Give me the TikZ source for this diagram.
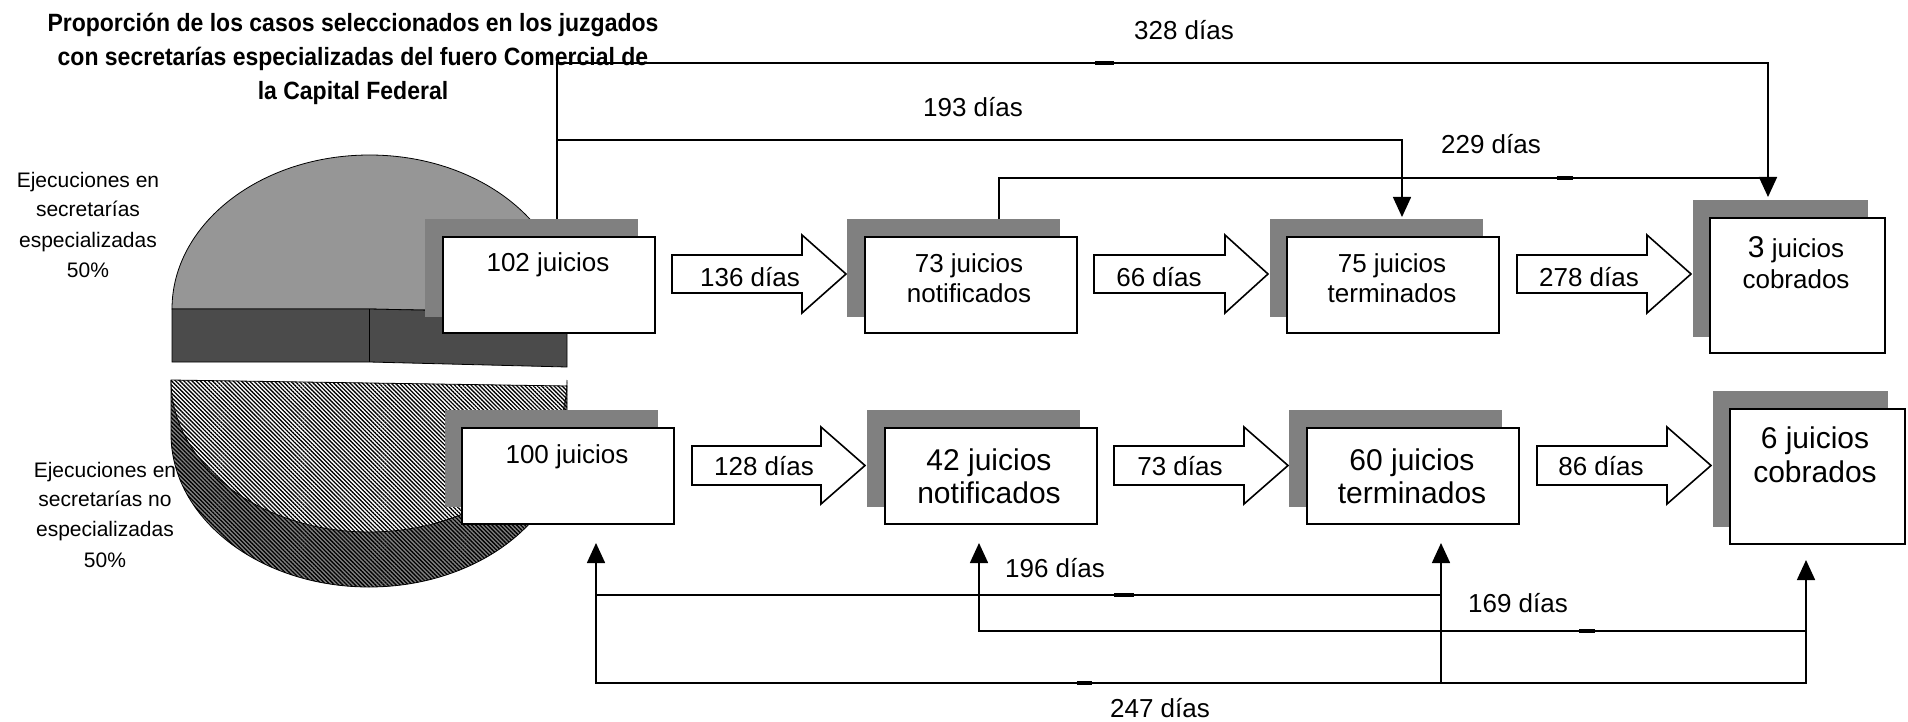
\documentclass[tikz,border=0pt]{standalone}
\usepackage{fontspec}
\setmainfont{Liberation Sans}
\newfontfamily\titlefont{Liberation Sans}[FakeStretch=0.92]
\usetikzlibrary{arrows.meta,patterns.meta,calc}
\definecolor{shadowgray}{HTML}{808080}
\definecolor{pietop}{HTML}{969696}
\definecolor{pieside}{HTML}{4B4B4B}
\definecolor{hatchbg}{HTML}{808080}
\begin{document}
\begin{tikzpicture}[x=1pt,y=-1pt,
  shadowbox/.style={fill=shadowgray, draw=none, anchor=north west, inner sep=0pt},
  jbox/.style={fill=white, draw=black, line width=2pt, anchor=north west, inner sep=0pt},
  wide/.style={minimum width=212pt, minimum height=96pt},
  tall/.style={minimum width=175pt, minimum height=135pt},
  ta/.style={font=\fontsize{26}{30}\selectfont, anchor=base, inner sep=0pt},
  tb/.style={font=\fontsize{30}{34}\selectfont, anchor=base, inner sep=0pt},
  side/.style={font=\fontsize{21}{25}\selectfont, anchor=base, inner sep=0pt},
  ttl/.style={font=\titlefont\bfseries\fontsize{25}{30}\selectfont, anchor=base, inner sep=0pt},
  blockarrow/.style={draw=black, fill=white, line width=1.6pt, line join=miter},
  conn/.style={draw=black, line width=1.6pt},
  tip/.style={-{Triangle[length=20pt,width=18pt]}},
  tick/.style={draw=black, line width=4pt},
  hatch/.style={pattern={Lines[angle=-45,distance=2.9pt,line width=1.3pt]}, pattern color=black}
]
\useasboundingbox (0,0) rectangle (1908,722);

% title
\node[ttl] (tl1) at (353,32) {Proporción de los casos seleccionados en los juzgados};
\node[ttl] (tl2) at (353,66) {con secretarías especializadas del fuero Comercial de};
\node[ttl] (tl3) at (353,100) {la Capital Federal};

% side labels
\node[side] (la1) at (88,188) {Ejecuciones en};
\node[side] (la2) at (88,217) {secretarías};
\node[side] (la3) at (88,247) {especializadas};
\node[side] (la4) at (88,277) {50\%};
\node[side] (lb1) at (105,477) {Ejecuciones en};
\node[side] (lb2) at (105,506) {secretarías no};
\node[side] (lb3) at (105,536) {especializadas};
\node[side] (lb4) at (105,567) {50\%};

% upper pie slice
\filldraw[fill=pietop, draw=black, line width=0.8pt] (172,309) arc[start angle=180, end angle=360, x radius=197.5, y radius=154] -- (567,313) -- (369,309) -- cycle;
\filldraw[fill=pieside, draw=black, line width=0.8pt] (172,309) -- (369,309) -- (567,313) -- (567,367) -- (369,362) -- (172,362) -- cycle;
\draw[black, line width=0.8pt] (369,309) -- (369,362);

% lower pie slice
\fill[hatchbg] (171,380) -- (171,434) arc[start angle=180, end angle=0, x radius=198, y radius=153] -- (567,386) -- cycle;
\fill[hatch] (171,380) -- (171,434) arc[start angle=180, end angle=0, x radius=198, y radius=153] -- (567,386) -- cycle;
\fill[white] (171,380) arc[start angle=180, end angle=0, x radius=198, y radius=152] -- (567,386) -- cycle;
\fill[hatch] (171,380) arc[start angle=180, end angle=0, x radius=198, y radius=152] -- (567,386) -- cycle;
\draw[black, line width=0.8pt] (171,380) -- (171,434) arc[start angle=180, end angle=0, x radius=198, y radius=153] -- (567,386) -- cycle;
\draw[black, line width=0.8pt] (171,380) arc[start angle=180, end angle=0, x radius=198, y radius=152];

% shadows
\node[shadowbox, minimum width=213pt, minimum height=98pt] (s1) at (425,219) {};
\node[shadowbox, minimum width=213pt, minimum height=98pt] (s2) at (847,219) {};
\node[shadowbox, minimum width=213pt, minimum height=98pt] (s3) at (1270,219) {};
\node[shadowbox, minimum width=175pt, minimum height=137pt] (s4) at (1693,200) {};
\node[shadowbox, minimum width=213pt, minimum height=97pt] (s5) at (445,410) {};
\node[shadowbox, minimum width=213pt, minimum height=97pt] (s6) at (867,410) {};
\node[shadowbox, minimum width=213pt, minimum height=97pt] (s7) at (1289,410) {};
\node[shadowbox, minimum width=175pt, minimum height=136pt] (s8) at (1713,391) {};

% boxes
\node[jbox, wide] (b1) at (442,236) {};
\node[jbox, wide] (b2) at (864,236) {};
\node[jbox, wide] (b3) at (1286,236) {};
\node[jbox, tall] (b4) at (1709,217) {};
\node[jbox, wide] (b5) at (461,427) {};
\node[jbox, wide] (b6) at (884,427) {};
\node[jbox, wide] (b7) at (1306,427) {};
\node[jbox, tall] (b8) at (1729,408) {};

% box texts
\node[ta] (x1) at (548,271) {102 juicios};
\node[ta] (x2a) at (969,272) {73 juicios};
\node[ta] (x2b) at (969,302) {notificados};
\node[ta] (x3a) at (1392,272) {75 juicios};
\node[ta] (x3b) at (1392,302) {terminados};
\node[ta] (x4a) at (1796,257) {{\fontsize{30}{34}\selectfont 3} juicios};
\node[ta] (x4b) at (1796,288) {cobrados};
\node[ta] (x5) at (567,463) {100 juicios};
\node[tb] (x6a) at (989,470) {42 juicios};
\node[tb] (x6b) at (989,503) {notificados};
\node[tb] (x7a) at (1412,470) {60 juicios};
\node[tb] (x7b) at (1412,503) {terminados};
\node[tb] (x8a) at (1815,448) {6 juicios};
\node[tb] (x8b) at (1815,482) {cobrados};

% block arrows row 1
\draw[blockarrow] (672,255) -- (802,255) -- (802,235) -- (846,274) -- (802,313) -- (802,293) -- (672,293) -- cycle;
\draw[blockarrow] (1094,255) -- (1225,255) -- (1225,235) -- (1268,274) -- (1225,313) -- (1225,293) -- (1094,293) -- cycle;
\draw[blockarrow] (1517,255) -- (1647,255) -- (1647,235) -- (1691,274) -- (1647,313) -- (1647,293) -- (1517,293) -- cycle;
\node[ta] (d1) at (750,286) {136 días};
\node[ta] (d2) at (1159,286) {66 días};
\node[ta] (d3) at (1589,286) {278 días};

% block arrows row 2
\draw[blockarrow] (692,446) -- (821,446) -- (821,427) -- (865,465.5) -- (821,504) -- (821,485) -- (692,485) -- cycle;
\draw[blockarrow] (1114,446) -- (1244,446) -- (1244,427) -- (1288,465.5) -- (1244,504) -- (1244,485) -- (1114,485) -- cycle;
\draw[blockarrow] (1537,446) -- (1667,446) -- (1667,427) -- (1711,465.5) -- (1667,504) -- (1667,485) -- (1537,485) -- cycle;
\node[ta] (d4) at (764,475) {128 días};
\node[ta] (d5) at (1180,475) {73 días};
\node[ta] (d6) at (1601,475) {86 días};

% connector end points
\coordinate (e4) at (1768,197);
\coordinate (e3) at (1402,217);
\coordinate (e5) at (596,543);
\coordinate (e6) at (979,543);
\coordinate (e7) at (1441,543);
\coordinate (e8) at (1806,560);

% top connectors
\draw[conn, tip] (s1.north west -| 557,0) -- (557,63) -| (e4);
\draw[conn, tip] (557,140) -| (e3);
\draw[conn] (s2.north west -| 999,0) |- (1768,178);
\draw[tick] (1095,63) -- (1114,63);
\draw[tick] (1557,178) -- (1573,178);
\node[ta] (c1) at (1184,40) {328 días};
\node[ta] (c2) at (973,117) {193 días};
\node[ta] (c3) at (1491,154) {229 días};

% bottom connectors
\draw[conn, {Triangle[length=20pt,width=18pt]}-{Triangle[length=20pt,width=18pt]}] (e5) |- (1806,683) -- (e8);
\draw[conn] (596,595) -- (1441,595);
\draw[conn, tip] (1441,683) -- (e7);
\draw[conn, tip] (1806,631) -| (e6);
\draw[tick] (1114,595) -- (1134,595);
\draw[tick] (1579,631) -- (1595,631);
\draw[tick] (1077,683) -- (1092,683);
\draw[conn, line width=2.4pt] (1092,683) -- (1145,683);
\node[ta] (c4) at (1055,577) {196 días};
\node[ta] (c5) at (1518,612) {169 días};
\node[ta] (c6) at (1160,717) {247 días};
\end{tikzpicture}
\end{document}
